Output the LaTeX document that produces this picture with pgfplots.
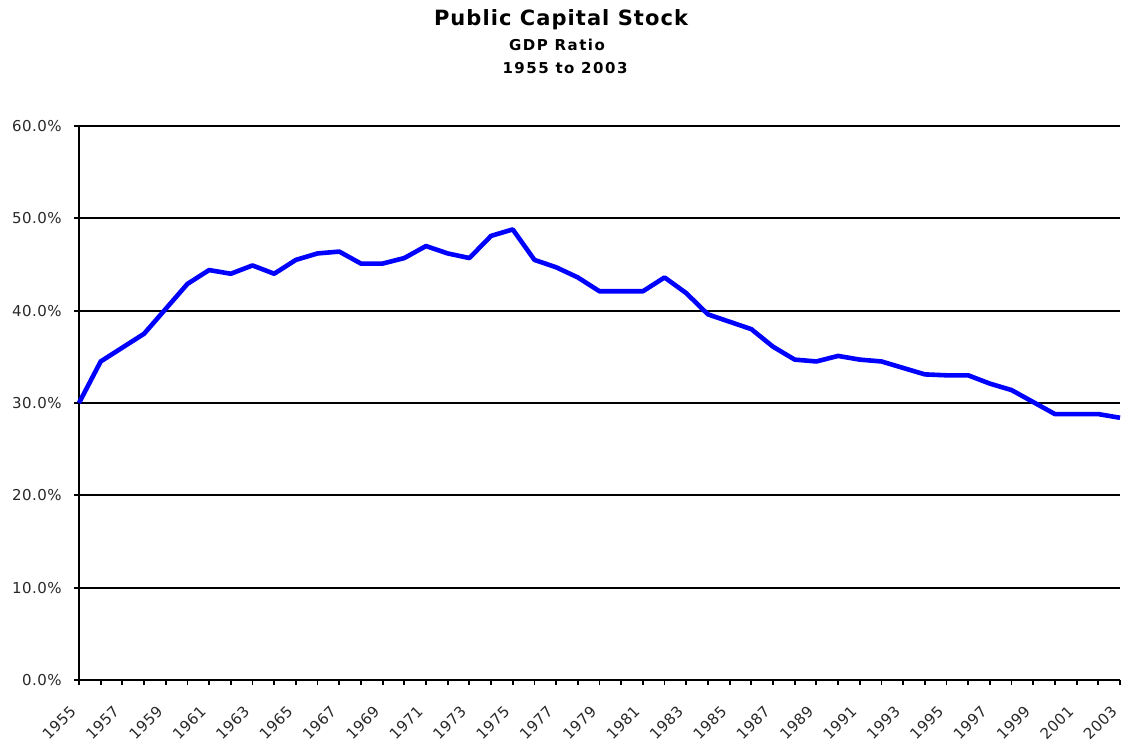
\documentclass[border=0pt]{standalone}
\usepackage{pgfplots}
\pgfplotsset{compat=1.18}
\usepackage{fontspec}
\setmainfont{DejaVu Sans}
\definecolor{tickgray}{RGB}{40,40,40}
\begin{document}
\begin{tikzpicture}
\useasboundingbox (0,0) rectangle (561pt,370pt);
\node[font=\bfseries\fontsize{10.5}{12}\selectfont\addfontfeature{LetterSpace=5}] at (280.5pt,360pt) {Public Capital Stock};
\node[font=\bfseries\fontsize{7.5}{9}\selectfont\addfontfeature{LetterSpace=10}] at (278.5pt,347.5pt) {GDP Ratio};
\node[font=\bfseries\fontsize{7.5}{9}\selectfont\addfontfeature{LetterSpace=10}] at (282.5pt,336pt) {1955 to 2003};
\begin{axis}[
  at={(39.5pt,30pt)}, anchor=south west,
  scale only axis, width=520.5pt, height=277pt,
  xmin=1955, xmax=2003, ymin=0, ymax=60,
  axis x line=bottom, axis y line=left,
  axis line style={line width=1.15pt, -},
  xtick={1955,1957,...,2003},
  minor xtick={1956,1958,...,2002},
  ytick={0,10,...,60},
  yticklabels={0.0\%,10.0\%,20.0\%,30.0\%,40.0\%,50.0\%,60.0\%},
  xticklabel={\pgfmathprintnumber[1000 sep={}]{\tick}},
  tick align=outside,
  major tick length=2.5pt, minor tick length=2.5pt,
  every tick/.style={black, line width=0.9pt},
  ymajorgrids, major grid style={black, line width=1pt},
  tick label style={font=\fontsize{7.5}{9}\selectfont\addfontfeature{LetterSpace=3}, text=tickgray},
  xticklabel style={xshift=-5pt, yshift=-8pt, rotate=45, anchor=north east, inner sep=1pt},
  yticklabel style={anchor=east, inner sep=0pt, xshift=-6pt},
  /pgf/number format/assume math mode=true,
  clip=false,
]
\addplot[color={rgb,255:red,0;green,0;blue,255}, line width=2.3pt, line join=round] coordinates {
(1955,30.0) (1956,34.5) (1957,36.0) (1958,37.5) (1959,40.2) (1960,42.9)
(1961,44.4) (1962,44.0) (1963,44.9) (1964,44.0) (1965,45.5) (1966,46.2)
(1967,46.4) (1968,45.1) (1969,45.1) (1970,45.7) (1971,47.0) (1972,46.2)
(1973,45.7) (1974,48.1) (1975,48.8) (1976,45.5) (1977,44.7) (1978,43.6)
(1979,42.1) (1980,42.1) (1981,42.1) (1982,43.6) (1983,41.9) (1984,39.6)
(1985,38.8) (1986,38.0) (1987,36.1) (1988,34.7) (1989,34.5) (1990,35.1)
(1991,34.7) (1992,34.5) (1993,33.8) (1994,33.1) (1995,33.0) (1996,33.0)
(1997,32.1) (1998,31.4) (1999,30.1) (2000,28.8) (2001,28.8) (2002,28.8)
(2003,28.4)
};
\end{axis}
\end{tikzpicture}
\end{document}
